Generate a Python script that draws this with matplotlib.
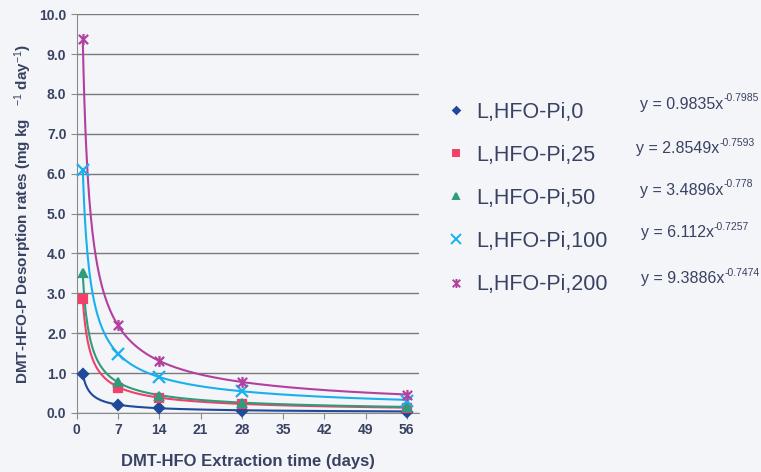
import numpy as np
import matplotlib
matplotlib.use("Agg")
import matplotlib.pyplot as plt
from matplotlib.lines import Line2D
from matplotlib.path import Path

plt.rcParams["font.family"] = ["Liberation Sans", "DejaVu Sans"]
plt.rcParams["mathtext.fontset"] = "custom"
plt.rcParams["mathtext.rm"] = "Liberation Sans"
plt.rcParams["mathtext.it"] = "Liberation Sans:italic"
plt.rcParams["mathtext.bf"] = "Liberation Sans:bold"

# data
days = [1, 7, 14, 28, 56]
series_names = ["L,HFO-Pi,0", "L,HFO-Pi,25", "L,HFO-Pi,50", "L,HFO-Pi,100", "L,HFO-Pi,200"]
rates_pi0 = [0.98, 0.20, 0.12, 0.05, 0.02]
rates_pi25 = [2.85, 0.63, 0.38, 0.22, 0.13]
rates_pi50 = [3.50, 0.78, 0.43, 0.25, 0.15]
rates_pi100 = [6.10, 1.48, 0.90, 0.55, 0.30]
rates_pi200 = [9.38, 2.20, 1.31, 0.78, 0.46]
fit_coef = [0.9835, 2.8549, 3.4896, 6.112, 9.3886]
fit_exp = [-0.7985, -0.7593, -0.778, -0.7257, -0.7474]
fit_labels = ["0.9835", "2.8549", "3.4896", "6.112", "9.3886"]
fit_exp_labels = ["-0.7985", "-0.7593", "-0.778", "-0.7257", "-0.7474"]

BG = "#f3f5f9"
TEXT = "#3a4263"
colors = ["#1f4a9a", "#f2406a", "#2f9c7c", "#1ab0ee", "#b2409f"]

star = Path(
    [(-1, -1), (1, 1), (-1, 1), (1, -1), (0, -1.2), (0, 1.2)],
    [Path.MOVETO, Path.LINETO, Path.MOVETO, Path.LINETO, Path.MOVETO, Path.LINETO],
)
markers = ["D", "s", "^", "x", star]
msizes = [5, 6, 6, 8, 8]

fig = plt.figure(figsize=(7.61, 4.72), dpi=100, facecolor=BG)
ax = fig.add_axes([0.101, 0.125, 0.449, 0.845], facecolor=BG)

all_rates = [rates_pi0, rates_pi25, rates_pi50, rates_pi100, rates_pi200]
xs = np.linspace(1, 56, 400)
handles = []
for i, rates in enumerate(all_rates):
    ax.plot(xs, fit_coef[i] * xs ** fit_exp[i], color=colors[i], lw=1.5, zorder=3)
    ax.plot(days, rates, linestyle="none", marker=markers[i], ms=msizes[i],
            color=colors[i], mec=colors[i], mew=1.6, zorder=4, clip_on=False)
    handles.append(Line2D([], [], linestyle="none", marker=markers[i], ms=msizes[i] - 1.5,
                          color=colors[i], mew=1.4))

ax.set_xlim(0, 58)
ax.set_ylim(0, 10)
ax.set_xticks(range(0, 57, 7))
ax.set_yticks(np.arange(0, 10.1, 1.0))
ax.set_yticklabels([f"{v:.1f}" for v in np.arange(0, 10.1, 1.0)])
ax.grid(axis="y", color="#7a7a7a", lw=1.0)
ax.set_axisbelow(True)
for side in ["top", "right"]:
    ax.spines[side].set_visible(False)
for side in ["left", "bottom"]:
    ax.spines[side].set_color("#8a8a8a")
ax.tick_params(colors="#8a8a8a", labelcolor=TEXT, labelsize=10, length=4)
for lab in ax.get_xticklabels() + ax.get_yticklabels():
    lab.set_fontweight("bold")

ax.set_xlabel("DMT-HFO Extraction time (days)", fontsize=12, fontweight="bold",
              color=TEXT, labelpad=12)
ax.set_ylabel(r"DMT-HFO-P Desorption rates (mg kg   $^{-1}$ day$^{-1}$)", fontsize=11,
              fontweight="bold", color=TEXT, labelpad=4)

fig.legend(handles, series_names, loc="upper left", bbox_to_anchor=(0.563, 0.826),
           frameon=False, fontsize=15.5, labelcolor=TEXT, handletextpad=0.5,
           labelspacing=1.03, handlelength=0.8)

# trendline equations: base text plus a small raised exponent
eq_y = [104, 149, 190, 233, 279]
eq_x = [640, 636, 640, 641, 641]
for i in range(5):
    base = fig.text(eq_x[i] / 761, 1 - eq_y[i] / 472, f"y = {fit_labels[i]}x",
                    fontsize=11.5, color=TEXT, va="center", ha="left")
    ax.annotate(fit_exp_labels[i], xy=(1.0, 0.55), xycoords=base, fontsize=7.5,
                color=TEXT, ha="left", va="bottom", annotation_clip=False)

fig.savefig("out.png", dpi=100, facecolor=BG)
